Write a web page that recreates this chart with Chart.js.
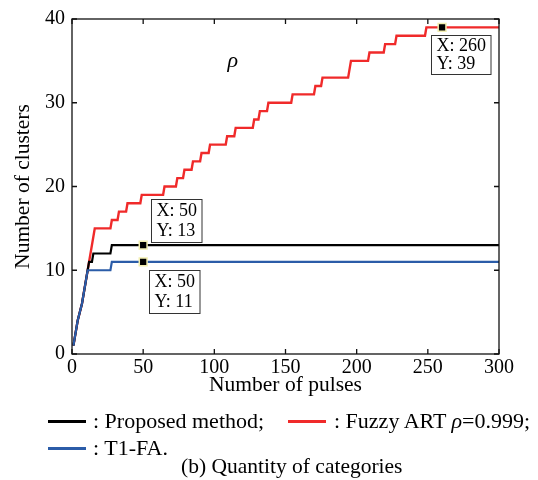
<!DOCTYPE html>
<html>
<head>
<meta charset="utf-8">
<script src="https://cdn.jsdelivr.net/npm/chart.js@4.4.1/dist/chart.umd.min.js"></script>
<style>
body { margin: 0; background: #fff; }
#wrap { position: relative; width: 538px; height: 480px; font-family: "Liberation Serif", "Times New Roman", serif; color: #000; }
#wrap canvas { position: absolute; left: 0; top: 0; }
.leg { position: absolute; font-size: 22px; line-height: 24px; white-space: nowrap; }
.swatch { position: absolute; height: 3px; width: 38px; }
</style>
</head>
<body>
<div id="wrap">
  <canvas id="clusters" width="538" height="480"></canvas>
  <div class="swatch" style="left:48px;top:420px;background:#000"></div>
  <div class="leg" style="left:93px;top:409px">: Proposed method;</div>
  <div class="swatch" style="left:288px;top:420px;background:#f02a2a"></div>
  <div class="leg" style="left:334px;top:409px">: Fuzzy ART <i>ρ</i>=0.999;</div>
  <div class="swatch" style="left:48px;top:447px;background:#2b5ca8"></div>
  <div class="leg" style="left:93px;top:436px">: T1-FA.</div>
  <div class="leg" style="left:181px;top:454px;font-size:21.5px">(b) Quantity of categories</div>
</div>
<script>
// number of clusters vs number of pulses
var pulsesProposed = [1, 4, 7, 11, 12, 14, 15, 27, 28, 300];
var countsProposed = [1, 4, 6, 10, 11, 11, 12, 12, 13, 13];

var pulsesT1FA = [1, 4, 7, 11, 27, 28, 300];
var countsT1FA = [1, 4, 6, 10, 10, 11, 11];

var pulsesFuzzy = [1, 4, 7, 10, 12, 14, 16, 27, 28, 32, 33, 38, 39, 48, 49, 64, 65, 73, 74, 78, 79, 84, 85, 90, 91, 96, 97,
  108, 109, 114, 115, 127, 128, 131, 132, 137, 138, 154, 155, 170, 171, 175, 176, 194, 196, 208, 209, 219, 220, 227, 228, 248, 249, 300];
var countsFuzzy = [1, 4, 6, 9, 11, 13, 15, 15, 16, 16, 17, 17, 18, 18, 19, 19, 20, 20, 21, 21, 22, 22, 23, 23, 24, 24, 25,
  25, 26, 26, 27, 27, 28, 28, 29, 29, 30, 30, 31, 31, 32, 32, 33, 33, 35, 35, 36, 36, 37, 37, 38, 38, 39, 39];

// data tips
var tipPulses = [50, 50, 260];
var tipCounts = [13, 11, 39];

var xTickValues = [0, 50, 100, 150, 200, 250, 300];
var yTickValues = [0, 10, 20, 30, 40];

// box offsets from each data tip marker (px)
var tipOffsets = [[8, -46], [6, 8], [-11, 8]];
var rhoPos = [113, 35.0];

function toPoints(xs, ys) {
  var pts = [];
  for (var i = 0; i < xs.length; i++) pts.push({x: xs[i], y: ys[i]});
  return pts;
}

var serif = '"Liberation Serif", "Times New Roman", serif';

var framePlugin = {
  id: 'frame',
  afterDatasetsDraw: function(chart) {
    var ctx = chart.ctx, a = chart.chartArea, xs = chart.scales.x, ys = chart.scales.y;
    ctx.save();
    ctx.strokeStyle = '#111';
    ctx.lineWidth = 1.3;
    ctx.beginPath();
    xTickValues.forEach(function(v) {
      var px = xs.getPixelForValue(v);
      ctx.moveTo(px, a.bottom); ctx.lineTo(px, a.bottom - 5);
      ctx.moveTo(px, a.top); ctx.lineTo(px, a.top + 5);
    });
    yTickValues.forEach(function(v) {
      var py = ys.getPixelForValue(v);
      ctx.moveTo(a.left, py); ctx.lineTo(a.left + 5, py);
      ctx.moveTo(a.right, py); ctx.lineTo(a.right - 5, py);
    });
    ctx.stroke();
    ctx.strokeRect(a.left, a.top, a.right - a.left, a.bottom - a.top);

    // rho label inside the plot
    ctx.fillStyle = '#000';
    ctx.font = 'italic 22px ' + serif;
    ctx.textAlign = 'center';
    ctx.textBaseline = 'middle';
    ctx.fillText('ρ', xs.getPixelForValue(rhoPos[0]), ys.getPixelForValue(rhoPos[1]));

    // data tip boxes
    ctx.font = '18px ' + serif;
    ctx.textAlign = 'left';
    ctx.textBaseline = 'middle';
    for (var i = 0; i < tipPulses.length; i++) {
      var px = xs.getPixelForValue(tipPulses[i]);
      var py = ys.getPixelForValue(tipCounts[i]);
      var l1 = 'X: ' + tipPulses[i], l2 = 'Y: ' + tipCounts[i];
      var w = Math.max(ctx.measureText(l1).width, ctx.measureText(l2).width) + 10;
      var h = i == 2 ? 39 : 43;
      var bx = Math.round(px + tipOffsets[i][0]) + 0.5, by = Math.round(py + tipOffsets[i][1]) + 0.5;
      ctx.fillStyle = '#fff';
      ctx.fillRect(bx, by, w, h);
      ctx.strokeStyle = '#333';
      ctx.lineWidth = 1;
      ctx.strokeRect(bx, by, w, h);
      ctx.fillStyle = '#000';
      ctx.fillText(l1, bx + 5, by + h * 0.27);
      ctx.fillText(l2, bx + 5, by + h * 0.74);
    }
    ctx.restore();
  }
};

new Chart(document.getElementById('clusters'), {
  type: 'line',
  data: {
    datasets: [
      {
        label: 'Data tips',
        type: 'scatter',
        data: toPoints(tipPulses, tipCounts),
        pointStyle: 'rect',
        pointRadius: 5.5,
        pointBackgroundColor: '#000',
        pointBorderColor: '#f2eeb0',
        pointBorderWidth: 1.5,
        showLine: false,
        order: 0
      },
      {
        label: 'T1-FA.',
        data: toPoints(pulsesT1FA, countsT1FA),
        borderColor: '#2b5ca8',
        borderWidth: 2.2,
        pointRadius: 0,
        tension: 0,
        order: 1
      },
      {
        label: 'Proposed method',
        data: toPoints(pulsesProposed, countsProposed),
        borderColor: '#000',
        borderWidth: 2.2,
        pointRadius: 0,
        tension: 0,
        order: 2
      },
      {
        label: 'Fuzzy ART ρ=0.999',
        data: toPoints(pulsesFuzzy, countsFuzzy),
        borderColor: '#f02a2a',
        borderWidth: 2.4,
        pointRadius: 0,
        tension: 0,
        order: 3
      }
    ]
  },
  options: {
    responsive: false,
    animation: false,
    layout: { padding: { top: 18, right: 39, left: 0, bottom: 82 } },
    plugins: { legend: { display: false }, tooltip: { enabled: false } },
    scales: {
      x: {
        type: 'linear',
        min: 0, max: 300,
        afterBuildTicks: function(s) { s.ticks = xTickValues.map(function(v) { return {value: v}; }); },
        afterFit: function(s) { s.height = 44; },
        grid: { display: false, drawTicks: false },
        border: { display: false },
        ticks: { color: '#000', padding: 2, font: { family: serif, size: 20 } },
        title: { display: true, text: 'Number of pulses', color: '#000', padding: { top: 0, bottom: 0 }, font: { family: serif, size: 21.5 } }
      },
      y: {
        type: 'linear',
        min: 0, max: 40,
        afterBuildTicks: function(s) { s.ticks = yTickValues.map(function(v) { return {value: v}; }); },
        afterFit: function(s) { s.width = 72; },
        grid: { display: false, drawTicks: false },
        border: { display: false },
        ticks: { color: '#000', padding: 7, font: { family: serif, size: 20 } },
        title: { display: true, text: 'Number of clusters', color: '#000', padding: { top: 10, bottom: 0 }, font: { family: serif, size: 21.5 } }
      }
    }
  },
  plugins: [framePlugin]
});
</script>
</body>
</html>
